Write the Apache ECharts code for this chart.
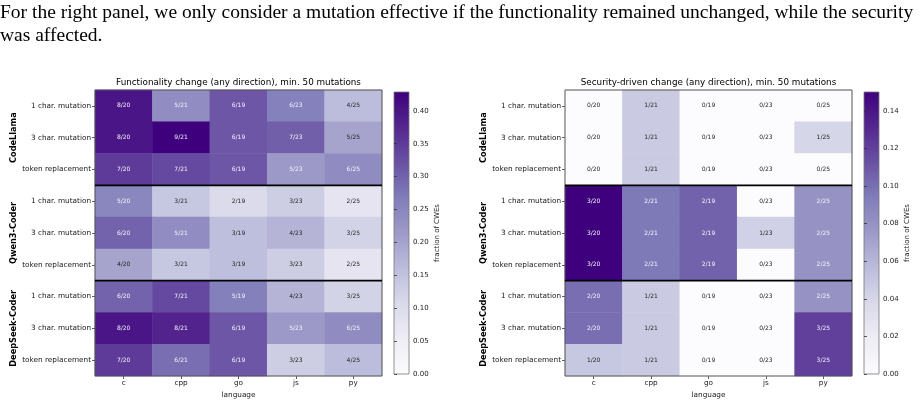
<!DOCTYPE html>
<html><head><meta charset="utf-8">
<script src="https://cdn.jsdelivr.net/npm/echarts@6/dist/echarts.min.js"></script>
<style>html,body{margin:0;padding:0;background:#fff}#c{width:921px;height:406px}</style>
</head><body><div id="c"></div>
<script>
const languages = ['c', 'cpp', 'go', 'js', 'py'];
const mutationTypes = ['1 char. mutation', '3 char. mutation', 'token replacement'];
const models = ['CodeLlama', 'Qwen3-Coder', 'DeepSeek-Coder'];
const denominators = [20, 21, 19, 23, 25];
// rows: CodeLlama x3, Qwen3-Coder x3, DeepSeek-Coder x3 (1 char, 3 char, token)
const funcCounts = [
  [8, 5, 6, 6, 4], [8, 9, 6, 7, 5], [7, 7, 6, 5, 6],
  [5, 3, 2, 3, 2], [6, 5, 3, 4, 3], [4, 3, 3, 3, 2],
  [6, 7, 5, 4, 3], [8, 8, 6, 5, 6], [7, 6, 6, 3, 4]
];
const secCounts = [
  [0, 1, 0, 0, 0], [0, 1, 0, 0, 1], [0, 1, 0, 0, 0],
  [3, 2, 2, 0, 2], [3, 2, 2, 1, 2], [3, 2, 2, 0, 2],
  [2, 1, 0, 0, 2], [2, 1, 0, 0, 3], [1, 1, 0, 0, 3]
];
const funcMax = 9 / 21;
const secMax = 3 / 20;
const funcTicks = [0, 0.05, 0.10, 0.15, 0.20, 0.25, 0.30, 0.35, 0.40];
const secTicks = [0, 0.02, 0.04, 0.06, 0.08, 0.10, 0.12, 0.14];
const titles = ['Functionality change (any direction), min. 50 mutations',
                'Security-driven change (any direction), min. 50 mutations'];
const caption1 = 'For the right panel, we only consider a mutation effective if the functionality remained unchanged, while the security';
const caption2 = 'was affected.';

const PURPLES = ['#fcfbfd', '#efedf5', '#dadaeb', '#bcbddc', '#9e9ac8', '#807dba', '#6a51a3', '#54278f', '#3f007d'];

function buildData(counts, vmax) {
  const out = [];
  counts.forEach((row, r) => row.forEach((n, c) => {
    const v = n / denominators[c];
    out.push({
      value: [c, r, v],
      label: { color: (v / vmax > 0.49) ? '#f4f2fa' : '#262626' },
      txt: n + '/' + denominators[c]
    });
  }));
  return out;
}
const rowIdx = ['0', '1', '2', '3', '4', '5', '6', '7', '8'];
const FONT = 'DejaVu Sans';

function gradient() {
  return new echarts.graphic.LinearGradient(0, 1, 0, 0,
    PURPLES.map((c, i) => ({ offset: i / (PURPLES.length - 1), color: c })));
}

const chart = echarts.init(document.getElementById('c'), null, { renderer: 'canvas' });

function heatX(gi) {
  return {
    type: 'category', gridIndex: gi, data: languages, position: 'bottom',
    axisLine: { show: false },
    axisTick: { show: true, alignWithLabel: true, length: 3, lineStyle: { color: '#333', width: 0.8 } },
    axisLabel: { fontFamily: FONT, fontSize: 7.3, color: '#1a1a1a', margin: 4 },
    name: 'language', nameLocation: 'middle', nameGap: 16,
    nameTextStyle: { fontFamily: FONT, fontSize: 7.3, color: '#1a1a1a' },
    splitLine: { show: false }
  };
}
function heatY(gi) {
  return {
    type: 'category', gridIndex: gi, data: rowIdx, inverse: true,
    axisLine: { show: false },
    axisTick: { show: true, alignWithLabel: true, length: 3, lineStyle: { color: '#333', width: 0.8 } },
    axisLabel: { fontFamily: FONT, fontSize: 7.3, color: '#1a1a1a', margin: 4,
      formatter: (v, i) => mutationTypes[i % 3] },
    splitLine: { show: false }
  };
}
function cbY(gi, vmax, ticks) {
  return {
    type: 'value', gridIndex: gi, position: 'right', min: 0, max: vmax,
    axisLine: { show: false },
    axisTick: { show: true, length: 3, customValues: ticks, lineStyle: { color: '#333', width: 0.8 } },
    axisLabel: { fontFamily: FONT, fontSize: 7, color: '#1a1a1a', margin: 4, customValues: ticks,
      formatter: v => v.toFixed(2) },
    splitLine: { show: false },
    name: 'fraction of CWEs', nameLocation: 'middle', nameRotate: 90, nameGap: 25,
    nameTextStyle: { fontFamily: FONT, fontSize: 7, color: '#1a1a1a' }
  };
}
function heatSeries(idx, counts, vmax) {
  return {
    type: 'heatmap', xAxisIndex: idx, yAxisIndex: idx,
    data: buildData(counts, vmax),
    label: { show: true, fontFamily: FONT, fontSize: 6, formatter: p => p.data.txt },
    emphasis: { disabled: true },
    itemStyle: { borderWidth: 0 }
  };
}

chart.setOption({
  animation: false,
  backgroundColor: '#fff',
  grid: [
    { left: 95, top: 90, width: 287, height: 286, show: true, z: 5, borderColor: '#555', borderWidth: 1, backgroundColor: 'transparent' },
    { left: 565, top: 90, width: 287, height: 286, show: true, z: 5, borderColor: '#555', borderWidth: 1, backgroundColor: 'transparent' },
    { left: 394, top: 92, width: 15, height: 282, show: true, borderColor: '#777', borderWidth: 0.8, backgroundColor: gradient() },
    { left: 864, top: 92, width: 15, height: 282, show: true, borderColor: '#777', borderWidth: 0.8, backgroundColor: gradient() }
  ],
  xAxis: [heatX(0), heatX(1),
    { type: 'value', gridIndex: 2, show: false }, { type: 'value', gridIndex: 3, show: false }],
  yAxis: [heatY(0), heatY(1), cbY(2, funcMax, funcTicks), cbY(3, secMax, secTicks)],
  visualMap: [
    { show: false, type: 'continuous', min: 0, max: funcMax, seriesIndex: 0, dimension: 2, inRange: { color: PURPLES } },
    { show: false, type: 'continuous', min: 0, max: secMax, seriesIndex: 1, dimension: 2, inRange: { color: PURPLES } }
  ],
  series: [heatSeries(0, funcCounts, funcMax), heatSeries(1, secCounts, secMax)]
});

// annotations positioned through the axes' own scales
const g = [];
g.push({ type: 'text', left: 0, top: 3, style: { text: caption1, font: '19.5px "Liberation Serif"', fill: '#000' } });
g.push({ type: 'text', left: 0, top: 26, style: { text: caption2, font: '19.5px "Liberation Serif"', fill: '#000' } });
[0, 1].forEach(gi => {
  const p0 = chart.convertToPixel({ gridIndex: gi }, [0, 0]);
  const p1 = chart.convertToPixel({ gridIndex: gi }, [1, 1]);
  const p4 = chart.convertToPixel({ gridIndex: gi }, [4, 8]);
  const bw = p1[0] - p0[0], bh = p1[1] - p0[1];
  const xl = p0[0] - bw / 2, xr = p4[0] + bw / 2, yt = p0[1] - bh / 2;
  g.push({ type: 'text', x: (xl + xr) / 2, y: yt - 7, z: 10,
    style: { text: titles[gi], font: '8.8px "DejaVu Sans"', fill: '#000', align: 'center', verticalAlign: 'middle' } });
  [3, 6].forEach(k => {
    const y = (chart.convertToPixel({ gridIndex: gi }, [0, k - 1])[1] + chart.convertToPixel({ gridIndex: gi }, [0, k])[1]) / 2;
    g.push({ type: 'line', z: 10, shape: { x1: xl, y1: y, x2: xr, y2: y }, style: { stroke: '#000', lineWidth: 1.6 } });
  });
  models.forEach((m, mi) => {
    const yc = chart.convertToPixel({ gridIndex: gi }, [0, mi * 3 + 1])[1];
    g.push({ type: 'text', x: xl - 81, y: yc, rotation: Math.PI / 2, z: 10,
      style: { text: m, font: 'bold 8.2px "DejaVu Sans"', fill: '#000', align: 'center', verticalAlign: 'middle' } });
  });
});
chart.setOption({ graphic: g });
</script></body></html>
